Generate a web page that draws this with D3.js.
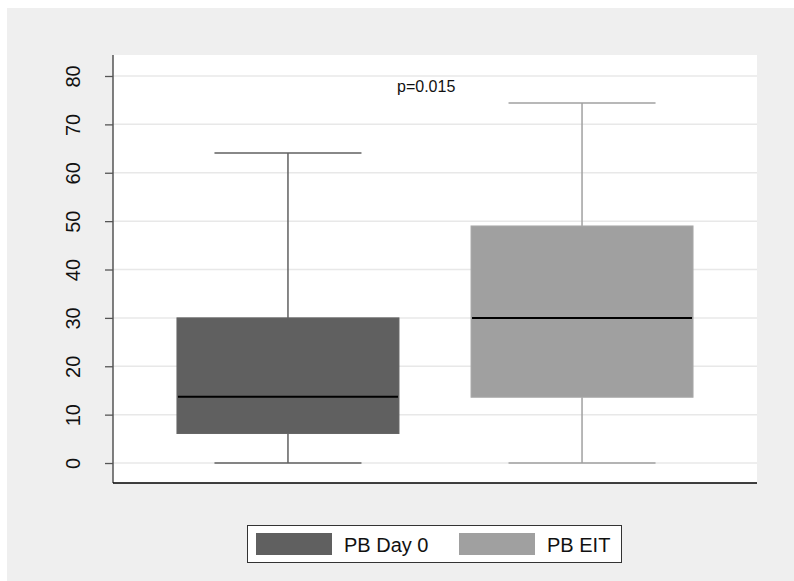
<!DOCTYPE html>
<html>
<head>
<meta charset="utf-8">
<script src="https://cdn.jsdelivr.net/npm/d3@7"></script>
<style>
  html, body { margin: 0; padding: 0; background: #ffffff; }
  svg { display: block; font-family: "Liberation Sans", Arial, sans-serif; }
</style>
</head>
<body>
<svg id="chart" width="794" height="581"></svg>
<script>
// Group labels and box-plot summaries (min, Q1, median, Q3, max)
const groups = ["PB Day 0", "PB EIT"];
const mins = [0, 0];
const q1s = [6.1, 13.6];
const medians = [13.7, 30.0];
const q3s = [30.0, 49.0];
const maxs = [64.1, 74.4];
const fills = ["#606060", "#a0a0a0"];
const yTicks = [0, 10, 20, 30, 40, 50, 60, 70, 80];
const annotation = "p=0.015";

const svg = d3.select("#chart");
const W = 794, H = 581;
const plot = { left: 113, right: 757, top: 55, bottom: 483 };

// outer panel
svg.append("rect").attr("x", 7).attr("y", 8).attr("width", W - 7).attr("height", H - 8)
  .attr("fill", "#efefef");
// plot region
svg.append("rect").attr("x", plot.left).attr("y", plot.top)
  .attr("width", plot.right - plot.left).attr("height", plot.bottom - plot.top)
  .attr("fill", "#ffffff");

const y = d3.scaleLinear().domain([-4.13, 84.34]).range([plot.bottom, plot.top]);
const x = d3.scalePoint().domain(groups).range([plot.left, plot.right]).padding(0.595);
const boxW = 222, capW = 147;

// gridlines
svg.append("g").selectAll("line").data(yTicks).join("line")
  .attr("x1", plot.left).attr("x2", plot.right)
  .attr("y1", d => y(d)).attr("y2", d => y(d))
  .attr("stroke", "#e8e8e8").attr("stroke-width", 1.5);

// y axis
const yAxis = svg.append("g").attr("transform", `translate(${plot.left},0)`)
  .call(d3.axisLeft(y).tickValues(yTicks).tickSize(8).tickSizeOuter(0).tickPadding(0));
yAxis.select(".domain").remove();
yAxis.selectAll(".tick line").attr("stroke", "#555").attr("stroke-width", 1.3);
yAxis.selectAll(".tick text")
  .attr("font-size", 20).attr("fill", "#111")
  .attr("text-anchor", "middle")
  .attr("x", null).attr("dy", null)
  .attr("transform", "translate(-33,0) rotate(-90)");
svg.append("line").attr("x1", plot.left).attr("x2", plot.left)
  .attr("y1", plot.top).attr("y2", plot.bottom)
  .attr("stroke", "#555").attr("stroke-width", 1.5);
// x axis line
svg.append("line").attr("x1", plot.left).attr("x2", plot.right)
  .attr("y1", plot.bottom).attr("y2", plot.bottom)
  .attr("stroke", "#000").attr("stroke-width", 1.5);

// boxes
groups.forEach((g, i) => {
  const cx = x(g);
  const gEl = svg.append("g");
  // whiskers
  gEl.append("line").attr("x1", cx).attr("x2", cx).attr("y1", y(q3s[i])).attr("y2", y(maxs[i]))
    .attr("stroke", fills[i]).attr("stroke-width", 1.5);
  gEl.append("line").attr("x1", cx).attr("x2", cx).attr("y1", y(q1s[i])).attr("y2", y(mins[i]))
    .attr("stroke", fills[i]).attr("stroke-width", 1.5);
  gEl.append("line").attr("x1", cx - capW / 2).attr("x2", cx + capW / 2)
    .attr("y1", y(maxs[i])).attr("y2", y(maxs[i]))
    .attr("stroke", fills[i]).attr("stroke-width", 1.5);
  gEl.append("line").attr("x1", cx - capW / 2).attr("x2", cx + capW / 2)
    .attr("y1", y(mins[i])).attr("y2", y(mins[i]))
    .attr("stroke", fills[i]).attr("stroke-width", 1.5);
  // box
  gEl.append("rect").attr("x", cx - boxW / 2).attr("y", y(q3s[i]))
    .attr("width", boxW).attr("height", y(q1s[i]) - y(q3s[i]))
    .attr("fill", fills[i]).attr("stroke", d3.color(fills[i]).brighter(0.15)).attr("stroke-width", 1);
  // median
  gEl.append("line").attr("x1", cx - boxW / 2 + 1).attr("x2", cx + boxW / 2 - 1)
    .attr("y1", y(medians[i])).attr("y2", y(medians[i]))
    .attr("stroke", "#000").attr("stroke-width", 2);
});

// annotation
svg.append("text").attr("x", 397).attr("y", 92).attr("font-size", 16).attr("fill", "#111")
  .text(annotation);

// legend
const leg = svg.append("g");
leg.append("rect").attr("x", 247.5).attr("y", 525.5).attr("width", 374).attr("height", 37)
  .attr("fill", "#fff").attr("stroke", "#333").attr("stroke-width", 1);
const legX = [256, 459];
groups.forEach((g, i) => {
  leg.append("rect").attr("x", legX[i]).attr("y", 533).attr("width", 76).attr("height", 22)
    .attr("fill", fills[i]);
  leg.append("text").attr("x", legX[i] + 88).attr("y", 551.5)
    .attr("font-size", 20).attr("fill", "#111").text(g);
});
</script>
</body>
</html>
